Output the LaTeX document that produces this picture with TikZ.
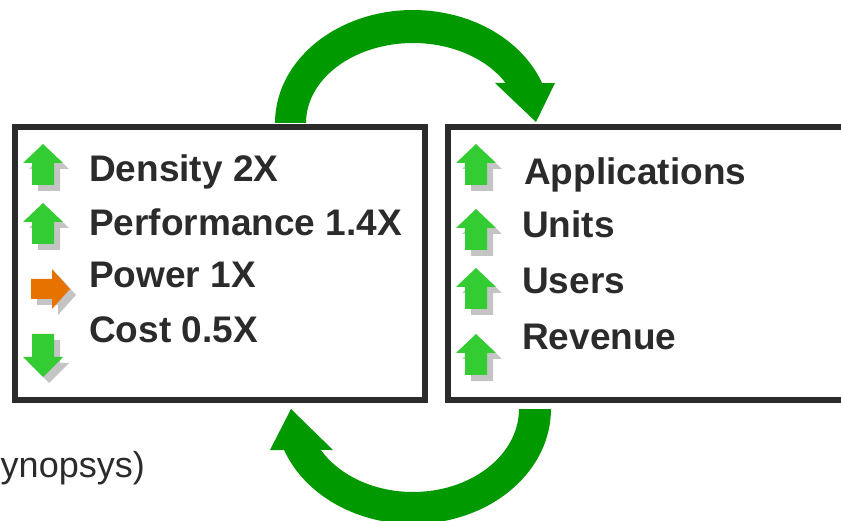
\documentclass[tikz,border=0pt]{standalone}
\usepackage{fontspec}
\setmainfont{Liberation Sans}
\definecolor{framegray}{HTML}{2B2B2B}
\definecolor{loopgreen}{HTML}{009900}
\definecolor{icongreen}{HTML}{33CC33}
\definecolor{iconorange}{HTML}{E67300}
\definecolor{shadowgray}{HTML}{C4C4C4}
\tikzset{
    panel/.style={draw=framegray, line width=6pt, inner sep=0},
    item/.style={font=\fontsize{37}{44}\selectfont\bfseries, text=framegray, anchor=base west, inner sep=0},
    note/.style={font=\fontsize{36}{43}\selectfont, text=framegray, anchor=base east, inner sep=0},
    bigarrow/.style={fill=loopgreen},
    iconshadow/.style={fill=shadowgray},
    pics/upicon/.style={code={
        \fill[iconshadow, shift={(6,6)}] (0,0) -- (20,19) -- (11,19) -- (11,41) -- (-11,41) -- (-11,19) -- (-20,19) -- cycle;
        \fill[icongreen] (0,0) -- (20,19) -- (11,19) -- (11,41) -- (-11,41) -- (-11,19) -- (-20,19) -- cycle;
    }},
    pics/downicon/.style={code={
        \fill[iconshadow, shift={(6,6)}] (0,0) -- (20,-20) -- (11,-20) -- (11,-43) -- (-11,-43) -- (-11,-20) -- (-20,-20) -- cycle;
        \fill[icongreen] (0,0) -- (20,-20) -- (11,-20) -- (11,-43) -- (-11,-43) -- (-11,-20) -- (-20,-20) -- cycle;
    }},
    pics/righticon/.style={code={
        \fill[iconshadow, shift={(6,6)}] (0,0) -- (-18,-20) -- (-18,-10) -- (-39,-10) -- (-39,10) -- (-18,10) -- (-18,20) -- cycle;
        \fill[iconorange] (0,0) -- (-18,-20) -- (-18,-10) -- (-39,-10) -- (-39,10) -- (-18,10) -- (-18,20) -- cycle;
    }}
}

\begin{document}
\begin{tikzpicture}[x=1pt, y=-1pt]
    \useasboundingbox (0,0) rectangle (841,521);
    \clip (0,0) rectangle (841,521);

    % the two panels
    \node[panel, minimum width=410pt, minimum height=273pt] (scaling) at (220,263.5) {};
    \node[panel, minimum width=412pt, minimum height=273pt] (market) at (654,263.5) {};

    % loop arrows
    \fill[bigarrow] plot[domain=180:339.3, samples=60] ({413+138*cos(\x)}, {123+113*sin(\x)})
        -- (555,83) -- (536,122) -- (495,83)
        -- plot[domain=330:180, samples=60] ({413+107*cos(\x)}, {123+80*sin(\x)}) -- cycle;
    \fill[bigarrow] plot[domain=0:159.1, samples=60] ({413+138*cos(\x)}, {409+115*sin(\x)})
        -- (270,450) -- (291,409) -- (333,450)
        -- plot[domain=150.4:0, samples=60] ({413+106*cos(\x)}, {409+83*sin(\x)}) -- cycle;

    % left panel
    \pic at (43,144) {upicon};
    \pic at (43,203) {upicon};
    \pic at (70,289) {righticon};
    \pic at (43,377) {downicon};
    \node[item] (density) at (89,182) {Density 2X};
    \node[item] (perf) at (89,236) {Performance 1.4X};
    \node[item] (power) at (89,288) {Power 1X};
    \node[item] (cost) at (89,343) {Cost 0.5X};

    % right panel
    \foreach \tip in {144,209,268,334}
        \pic at (476,\tip) {upicon};
    \node[item] (apps) at (524,185) {Applications};
    \node[item] (units) at (522,238) {Units};
    \node[item] (users) at (522,294) {Users};
    \node[item] (revenue) at (522,349) {Revenue};

    \node[note] (source) at (145,477) {ynopsys)};
\end{tikzpicture}
\end{document}
